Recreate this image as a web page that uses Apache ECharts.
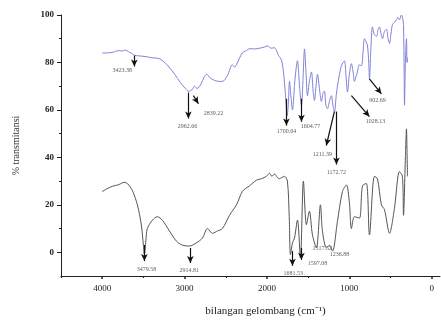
<!DOCTYPE html>
<html><head><meta charset="utf-8">
<script src="https://cdn.jsdelivr.net/npm/echarts@6/dist/echarts.min.js"></script>
<style>html,body{margin:0;padding:0;background:#fff}#c{width:441px;height:322px}</style>
</head><body><div id="c"></div>
<script>
// Blue (upper) spectrum
const blueWave = [4000,3950,3870,3800,3760,3720,3680,3640,3610,3560,3480,3400,3300,3200,3120,3050,2990,2950,2910,2880,2850,2800,2760,2730,2690,2640,2577,2540,2480,2420,2390,2370,2300,2250,2210,2150,2090,2030,1994,1950,1909,1860,1824,1800,1775,1755,1740,1727,1710,1691,1660,1630,1605,1582,1560,1545,1525,1509,1485,1460,1440,1424,1405,1387,1360,1339,1320,1303,1285,1266,1240,1218,1200,1181,1160,1145,1120,1096,1075,1059,1040,1023,1000,975,955,938,920,902,880,853,835,817,800,780,765,756,740,720,700,671,650,635,615,598,575,550,530,513,495,477,450,428,410,392,368,355,343,335,331,320,307,300,295];
const blueValues = [84,84,84.3,85,84.8,85.2,84.5,83.8,83,82.8,82.5,82,81.5,78.5,75,71.5,69,67.8,68.5,70,69,71,74,75,73.5,72.5,72,72,74.5,79,78,79,84,85,85.8,85.7,86,86.5,87,86,86.2,83,81,76,66,57.5,63,72,66,60,73,80.7,70,62,75,85.7,75,66,72,76,68,64,70,75,68,63.5,67,68,62,60.5,64,66,62,59,66,70,75,78.7,80,80.7,74,67.5,75,79.5,76,72,74,76,79,78.6,84,90,89,87,80,73,85,95,92,91,94,95,92,90,93,94,90,88,92,96,97,98,99,98,100,99,96,75,62,80,90,80,82];
// Black (lower) spectrum
const blackWave = [4000,3940,3876,3800,3731,3695,3634,3573,3525,3500,3488,3470,3452,3391,3330,3270,3184,3099,3026,2941,2856,2783,2722,2662,2600,2540,2455,2370,2297,2212,2127,2067,2007,1970,1940,1909,1873,1849,1820,1788,1752,1730,1715,1690,1666,1630,1594,1558,1521,1485,1448,1400,1351,1327,1278,1242,1205,1145,1084,1036,1000,975,938,878,841,793,756,696,659,611,574,513,453,392,356,343,320,307,300,295];
const blackValues = [25.6,26.8,27.8,28.5,29.5,29,26,20,11.5,3,-1,5,10,13.5,15,13.5,9,4.7,3,2.6,4,6,10,8,9,10,15.6,20,25.7,28,30.4,31,32,33.3,32,33,31.5,31,31.5,32,30,15,-1,4,6,13.6,-2.4,30,11.6,17.3,7.3,1.8,20,9,1.8,3,0.5,13,25.6,28.4,21,10,15,14.4,28,29,7.3,32,31,20,18,8,18.5,34,32,15.6,40,52,42,32];
// Axis ticks
const xTickLabels = [4000,3000,2000,1000,0];
const xMinorTicks = [4500,3500,2500,1500,500];
const yTickLabels = [0,20,40,60,80,100];
const yMinorTicks = [10,30,50,70,90];
// Peak annotations: [label, arrowStartWave, arrowStartValue, arrowEndWave, arrowEndValue, labelWave, labelValue]
const blueAnno = [
  ['3423.38',3610,82.9,3610,78.3,3756,76.5],
  ['2962.66',2954,67.3,2954,56.4,2966,53],
  ['2839.22',2893,66,2832,62.6,2650,58.4],
  ['1700.64',1764,64.7,1764,53.4,1764,50.9],
  ['1604.77',1582,64.7,1582,55,1473,53],
  ['1211.39',1182,59.3,1280,45,1327,41.2],
  ['1172.72',1157,59.3,1157,37,1157,33.7],
  ['1028.13',975,66,757,57.2,684,55],
  ['902.69',757,73.1,611,66.8,660,64]
];
const blackAnno = [
  ['3479.58',3488,3.1,3488,-3.7,3463,-7.4],
  ['2914.81',2930,1.8,2930,-4.5,2942,-7.8],
  ['1681.53',1691,0.5,1691,-5.7,1680,-9.1],
  ['1597.08',1582,1.8,1582,-3.2,1388,-4.9],
  ['1517.52',null,null,null,null,1330,1.8],
  ['1236.88',null,null,null,null,1120,-1.1]
];

const zip = (a,b)=>a.map((x,i)=>[x,b[i]]);
const serif = 'Liberation Serif';
function arrows(anno){
  return anno.filter(a=>a[1]!==null).map(a=>[{coord:[a[1],a[2]]},{coord:[a[3],a[4]]}]);
}
function labels(anno){
  return anno.map(a=>({value:[a[5],a[6]], name:a[0]}));
}
const chart = echarts.init(document.getElementById('c'));
const baseX = {
  type:'value', inverse:true, min:-100, max:4500,
  splitLine:{show:false}
};
const baseY = {type:'value', min:-10, max:100, splitLine:{show:false}};
chart.setOption({
  backgroundColor:'#fff',
  animation:false,
  grid:{left:61, right:1, top:15, bottom:44},
  xAxis:[
    Object.assign({}, baseX, {
      name:'bilangan gelombang (cm\u207B\u00B9)', nameLocation:'middle', nameGap:30,
      nameTextStyle:{fontFamily:serif, fontSize:11, color:'#222', padding:[0,0,0,30]},
      axisLine:{onZero:false, lineStyle:{color:'#222', width:1}},
      axisTick:{show:true, length:3, customValues:xTickLabels, lineStyle:{color:'#222', width:1.5}},
      axisLabel:{customValues:xTickLabels, formatter:v=>String(v), fontFamily:serif, fontSize:9, color:'#222', margin:8}
    }),
    Object.assign({}, baseX, {
      position:'bottom',
      axisLine:{show:false, onZero:false},
      axisTick:{show:true, length:2, customValues:xMinorTicks, lineStyle:{color:'#222', width:1.2}},
      axisLabel:{show:false}
    })
  ],
  yAxis:[
    Object.assign({}, baseY, {
      position:'left',
      name:'% transmitansi', nameLocation:'middle', nameGap:40, nameRotate:90,
      nameTextStyle:{fontFamily:serif, fontSize:10, color:'#333'},
      axisLine:{show:true, onZero:false, lineStyle:{color:'#222', width:1}},
      axisTick:{show:true, length:4, customValues:yTickLabels, lineStyle:{color:'#222'}},
      axisLabel:{customValues:yTickLabels, fontFamily:serif, fontSize:9, fontWeight:'bold', color:'#222', margin:7}
    }),
    Object.assign({}, baseY, {
      position:'left',
      axisLine:{show:false, onZero:false},
      axisTick:{show:true, length:2, customValues:yMinorTicks, lineStyle:{color:'#222'}},
      axisLabel:{show:false}
    })
  ],
  series:[
    {type:'line', data:zip(blueWave,blueValues), showSymbol:false, smooth:0.3,
     lineStyle:{color:'#8082d8', width:1},
     markLine:{silent:true, symbol:['none','arrow'], symbolSize:[5,7], label:{show:false},
       lineStyle:{color:'#111', width:1.2, type:'solid'}, data:arrows(blueAnno)}},
    {type:'line', data:zip(blackWave,blackValues), showSymbol:false, smooth:0.3,
     lineStyle:{color:'#555', width:1},
     markLine:{silent:true, symbol:['none','arrow'], symbolSize:[5,7], label:{show:false},
       lineStyle:{color:'#111', width:1.2, type:'solid'}, data:arrows(blackAnno)}},
    {type:'scatter', symbolSize:0, data:labels(blueAnno.concat(blackAnno)),
     label:{show:true, position:'inside', formatter:p=>p.name, fontFamily:serif, fontSize:6, color:'#333'}}
  ]
});
</script></body></html>
